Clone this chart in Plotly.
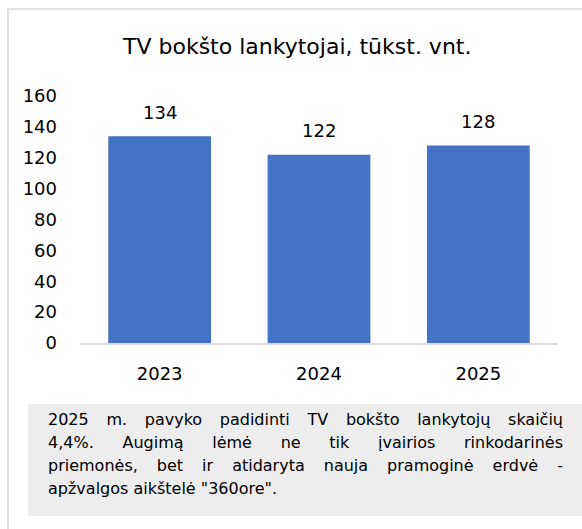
import plotly.graph_objects as go

years = ["2023", "2024", "2025"]
visitors = [134, 122, 128]
y_ticks = [0, 20, 40, 60, 80, 100, 120, 140, 160]
title_text = "TV bokšto lankytojai, tūkst. vnt."
note_lines = [
    "2025 m. pavyko padidinti TV bokšto lankytojų skaičių",
    "4,4%. Augimą lėmė ne tik įvairios rinkodarinės",
    "priemonės, bet ir atidaryta nauja pramoginė erdvė -",
    "apžvalgos aikštelė \"360ore\".",
]

W, H = 582, 529
FONT = "DejaVu Sans"

def px(x):
    return x / W

def py(y):
    return 1 - y / H

fig = go.Figure()
fig.add_trace(go.Bar(
    x=years, y=visitors,
    marker=dict(color="#4472C4", line=dict(width=0)),
    hoverinfo="x+y",
))

annotations = []
for i, v in enumerate(visitors):
    annotations.append(dict(
        x=i, y=v, xref="x", yref="y", text=str(v), showarrow=False,
        xanchor="center", yanchor="middle", yshift=24,
        font=dict(family=FONT, size=18, color="#000"),
    ))

annotations.append(dict(
    x=px(296), y=py(47), xref="paper", yref="paper", text=title_text,
    showarrow=False, xanchor="center", yanchor="middle",
    font=dict(family=FONT, size=22, color="#000"),
))

TEXT_LEFT, TEXT_RIGHT = 46, 561
first_note = len(annotations)
line_y = [419, 442, 465, 488]
for t, yy in zip(note_lines, line_y):
    annotations.append(dict(
        x=px(TEXT_LEFT), y=py(yy), xref="paper", yref="paper", text=t,
        showarrow=False, xanchor="left", yanchor="middle", align="left",
        font=dict(family=FONT, size=16, color="#000"),
    ))

shapes = [
    dict(type="rect", xref="paper", yref="paper",
         x0=px(8), x1=px(600), y0=py(540), y1=py(9),
         line=dict(color="#D9D9D9", width=1.5), fillcolor="rgba(0,0,0,0)", layer="below"),
    dict(type="rect", xref="paper", yref="paper",
         x0=px(28), x1=px(600), y0=py(516), y1=py(404),
         line=dict(width=0), fillcolor="#EDEDED", layer="below"),
]

fig.update_layout(
    width=W, height=H,
    margin=dict(l=0, r=0, t=0, b=0, pad=0, autoexpand=False),
    paper_bgcolor="white", plot_bgcolor="white",
    showlegend=False,
    bargap=0.355,
    xaxis=dict(type="category", categoryorder="array", categoryarray=years,
               range=[-0.5, 2.5],
               domain=[px(80), px(558)], showgrid=False, showline=True,
               automargin=False,
               linecolor="#D9D9D9", linewidth=1.5, ticks="", ticklabelstandoff=14,
               tickfont=dict(family=FONT, size=18, color="#000")),
    yaxis=dict(domain=[1 - 343 / H, 1 - 96 / H], range=[0, 160], tickvals=y_ticks,
               automargin=False,
               showgrid=False, zeroline=False, showline=False, ticks="",
               ticklabelstandoff=22,
               tickfont=dict(family=FONT, size=18, color="#000")),
    annotations=annotations,
    shapes=shapes,
)

# justify the first three lines of the note to the same right edge (text stays real text)
justify_js = """
document.body.style.margin='0';
document.body.style.overflow='hidden';
var gd = document.getElementById('{plot_id}');
var target = %d;
for (var k = %d; k < %d; k++) {
  var t = gd.querySelector('g.annotation[data-index="' + k + '"] text.annotation-text');
  if (!t) continue;
  var len = t.getComputedTextLength();
  var n = (t.textContent.match(/ /g) || []).length;
  if (n > 0 && len < target) { t.style.wordSpacing = ((target - len) / n) + 'px'; }
}
""" % (TEXT_RIGHT - TEXT_LEFT, first_note, first_note + len(note_lines) - 1)

fig.write_html("out.html", config={"displayModeBar": False}, post_script=justify_js)
